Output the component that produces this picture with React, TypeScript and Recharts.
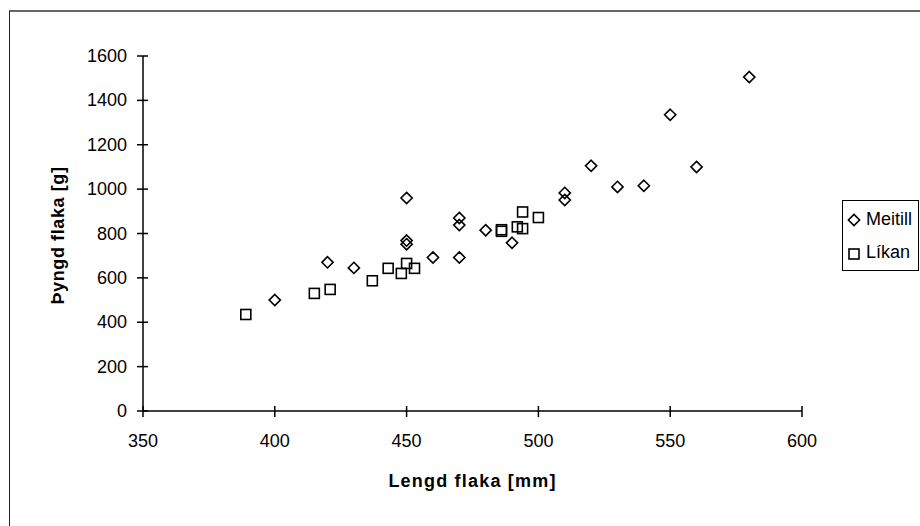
import { ScatterChart, Scatter, XAxis, YAxis, Label } from 'recharts'

const X_TICKS = [350, 400, 450, 500, 550, 600]
const Y_TICKS = [0, 200, 400, 600, 800, 1000, 1200, 1400, 1600]

const MEITILL = 'Meitill'
const LIKAN = 'Líkan'
const X_TITLE = 'Lengd flaka [mm]'
const Y_TITLE = 'Þyngd flaka [g]'

// measured fillets
const meitillLength = [400, 420, 430, 450, 450, 450, 460, 470, 470, 470, 480, 490, 510, 510, 520, 530, 540, 550, 560, 580]
const meitillWeight = [500, 670, 645, 960, 768, 752, 692, 870, 838, 692, 815, 758, 983, 951, 1105, 1010, 1015, 1335, 1100, 1505]

// model
const likanLength = [389, 415, 421, 437, 443, 448, 450, 453, 486, 486, 492, 494, 494, 500]
const likanWeight = [435, 530, 548, 587, 643, 620, 665, 643, 810, 817, 830, 822, 897, 872]

const FONT = '"Liberation Sans", Arial, sans-serif'

const toPoints = (xs: number[], ys: number[]) => xs.map((x, i) => ({ x, y: ys[i] }))

function Diamond({ cx, cy }: { cx: number; cy: number }) {
  const r = 5.6
  return (
    <path
      d={`M${cx},${cy - r}L${cx + r},${cy}L${cx},${cy + r}L${cx - r},${cy}Z`}
      fill="none" stroke="#000" strokeWidth={1.6}
    />
  )
}

function Square({ cx, cy }: { cx: number; cy: number }) {
  const r = 5
  return <rect x={cx - r} y={cy - r} width={r * 2} height={r * 2} fill="none" stroke="#000" strokeWidth={1.6} />
}

function YTick({ x, y, payload }: any) {
  return (
    <g>
      <line x1={x - 6} x2={x + 5} y1={y} y2={y} stroke="#000" strokeWidth={1.5} />
      <text x={x - 16} y={y + 6} textAnchor="end" fontSize={18} fontFamily={FONT} fill="#000">
        {payload.value}
      </text>
    </g>
  )
}

function XTick({ x, y, payload }: any) {
  return (
    <g>
      <line x1={x} x2={x} y1={y - 5} y2={y + 6} stroke="#000" strokeWidth={1.5} />
      <text x={x} y={y + 36} textAnchor="middle" fontSize={18} fontFamily={FONT} fill="#000">
        {payload.value}
      </text>
    </g>
  )
}

function XTitle({ viewBox }: any) {
  const cx = viewBox.x + viewBox.width / 2
  return (
    <text x={cx} y={viewBox.y + 76} textAnchor="middle" fontSize={18} fontWeight="bold"
      fontFamily={FONT} letterSpacing={1.2} fill="#000">
      {X_TITLE}
    </text>
  )
}

function YTitle({ viewBox }: any) {
  const cx = viewBox.x - 19
  const cy = viewBox.y + viewBox.height / 2 + 2
  return (
    <text x={cx} y={cy} transform={`rotate(-90 ${cx} ${cy})`} textAnchor="middle" fontSize={18}
      fontWeight="bold" fontFamily={FONT} letterSpacing={0.6} fill="#000">
      {Y_TITLE}
    </text>
  )
}

function ChartLegend() {
  return (
    <svg width={77} height={71} style={{ position: 'absolute', left: 842, top: 200 }}>
      <rect x={0.5} y={0.5} width={76} height={70} fill="#fff" stroke="#000" strokeWidth={1} />
      <Diamond cx={12} cy={20} />
      <text x={24} y={25} fontSize={18} fontFamily={FONT} fill="#000">{MEITILL}</text>
      <Square cx={12} cy={54} />
      <text x={24} y={58} fontSize={18} fontFamily={FONT} fill="#000">{LIKAN}</text>
    </svg>
  )
}

export default function App() {
  return (
    <div style={{ position: 'absolute', left: 0, top: 0, width: 920, height: 526, background: '#fff', overflow: 'hidden' }}>
      <div style={{
        position: 'absolute', left: 9, top: 10, width: 940, height: 560,
        borderLeft: '1px solid #222', borderTop: '2px solid #666',
      }} />
      <div style={{ position: 'absolute', left: 0, top: 0 }}>
        <ScatterChart width={920} height={526} margin={{ top: 56, right: 118, bottom: 75, left: 83 }}>
          <XAxis
            type="number" dataKey="x" domain={[350, 600]} ticks={X_TICKS}
            axisLine={{ stroke: '#000', strokeWidth: 1.5 }} tickLine={false}
            tickSize={0} tickMargin={0} height={40} tick={XTick} interval={0}
          >
            <Label content={XTitle} />
          </XAxis>
          <YAxis
            type="number" dataKey="y" domain={[0, 1600]} ticks={Y_TICKS}
            axisLine={{ stroke: '#000', strokeWidth: 1.5 }} tickLine={false}
            tickSize={0} tickMargin={0} width={60} tick={YTick} interval={0}
          >
            <Label content={YTitle} />
          </YAxis>
          <Scatter name={MEITILL} data={toPoints(meitillLength, meitillWeight)} shape={Diamond} isAnimationActive={false} />
          <Scatter name={LIKAN} data={toPoints(likanLength, likanWeight)} shape={Square} isAnimationActive={false} />
        </ScatterChart>
      </div>
      <ChartLegend />
    </div>
  )
}
